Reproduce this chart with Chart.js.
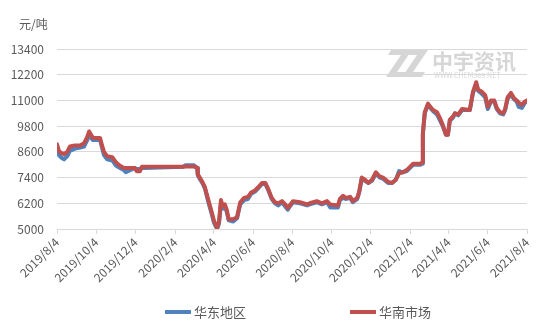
<!DOCTYPE html>
<html>
<head>
<meta charset="utf-8">
<script src="https://cdn.jsdelivr.net/npm/chart.js@4"></script>
<style>
  html, body { margin: 0; padding: 0; background: #fff; }
  #wrap { width: 554px; height: 332px; }
</style>
</head>
<body>
<div id="wrap"><canvas id="price"></canvas></div>
<script>
const dates = [
  '2019/8/4','2019/8/7','2019/8/10','2019/8/15','2019/8/20','2019/8/24','2019/9/1','2019/9/9','2019/9/15','2019/9/20',
  '2019/9/23','2019/9/26','2019/9/29','2019/10/10','2019/10/13','2019/10/16','2019/10/21','2019/10/29','2019/11/4','2019/11/10',
  '2019/11/16','2019/11/19','2019/12/3','2019/12/6','2019/12/11','2019/12/14','2019/12/19','2020/2/16','2020/2/20','2020/3/4',
  '2020/3/9','2020/3/10','2020/3/17','2020/3/21','2020/3/26','2020/4/1','2020/4/4','2020/4/9','2020/4/12','2020/4/15',
  '2020/4/18','2020/4/21','2020/4/24','2020/4/27','2020/5/4','2020/5/10','2020/5/15','2020/5/21','2020/5/27','2020/6/1',
  '2020/6/7','2020/6/12','2020/6/18','2020/6/23','2020/6/27','2020/7/3','2020/7/8','2020/7/13','2020/7/19','2020/7/24',
  '2020/7/28','2020/7/31','2020/8/5','2020/8/16','2020/8/27','2020/8/31','2020/9/11','2020/9/19','2020/9/27','2020/10/2',
  '2020/10/14','2020/10/17','2020/10/22','2020/10/26','2020/11/2','2020/11/6','2020/11/13','2020/11/16','2020/11/20','2020/11/25',
  '2020/11/30','2020/12/6','2020/12/12','2020/12/18','2020/12/23','2020/12/31','2021/1/6','2021/1/12','2021/1/17','2021/1/23',
  '2021/1/29','2021/2/3','2021/2/8','2021/2/19','2021/2/22','2021/2/23','2021/2/26','2021/3/3','2021/3/8','2021/3/11',
  '2021/3/17','2021/3/22','2021/3/26','2021/3/31','2021/4/3','2021/4/6','2021/4/11','2021/4/14','2021/4/19','2021/4/25',
  '2021/5/7','2021/5/12','2021/5/17','2021/5/20','2021/5/26','2021/5/31','2021/6/4','2021/6/9','2021/6/14','2021/6/18',
  '2021/6/23','2021/6/28','2021/7/1','2021/7/5','2021/7/10','2021/7/15','2021/7/19','2021/7/22','2021/7/27','2021/8/1',
  '2021/8/4'
];

// 华东地区
const eastValues = [
  8700,8450,8350,8250,8400,8650,8750,8800,8850,9150,
  9450,9250,9150,9150,8800,8450,8250,8200,7950,7850,
  7750,7650,7850,7800,7800,7850,7850,7900,7980,7980,
  7850,7500,7150,6900,6300,5650,5300,5000,5250,6200,
  5950,6050,5800,5400,5350,5500,6150,6350,6400,6650,
  6750,6900,7100,7100,6850,6400,6200,6100,6250,6050,
  5900,6050,6250,6200,6100,6150,6250,6150,6250,6000,
  6000,6350,6450,6400,6450,6250,6400,6700,7350,7250,
  7150,7250,7600,7400,7350,7150,7150,7300,7700,7650,
  7700,7850,8000,8000,8050,9400,10400,10800,10600,10500,
  10350,10050,9800,9400,9400,10050,10200,10400,10300,10550,
  10550,11350,11750,11450,11300,11150,10600,10950,10950,10600,
  10400,10350,10550,11100,11250,11050,10950,10700,10650,10900,
  10950
];

// 华南市场
const southValues = [
  8950,8650,8550,8500,8600,8850,8900,8900,9000,9300,
  9550,9400,9250,9250,8900,8600,8400,8350,8100,7950,
  7850,7850,7850,7700,7700,7900,7900,7900,7920,7920,
  7850,7550,7200,6950,6400,5750,5400,5050,5350,6350,
  6050,6150,5900,5450,5450,5550,6250,6450,6500,6700,
  6800,6950,7150,7150,6900,6450,6250,6200,6300,6150,
  5980,6100,6300,6250,6150,6200,6300,6200,6300,6150,
  6100,6400,6550,6450,6500,6300,6450,6750,7400,7300,
  7150,7300,7650,7450,7400,7200,7150,7300,7600,7650,
  7750,7900,8050,8050,8100,9450,10450,10850,10650,10550,
  10450,10150,9850,9400,9400,10100,10250,10400,10350,10600,
  10550,11400,11850,11500,11400,11250,10700,11000,11000,10650,
  10450,10400,10600,11150,11350,11100,11000,10900,10800,10950,
  11000
];

const seriesNames = ['华东地区', '华南市场'];
const seriesColors = ['#4F81BD', '#C0504D'];
const xTickLabels = ['2019/8/4','2019/10/4','2019/12/4','2020/2/4','2020/4/4','2020/6/4','2020/8/4',
  '2020/10/4','2020/12/4','2021/2/4','2021/4/4','2021/6/4','2021/8/4'];
const yMin = 5000, yMax = 13400, yStep = 1200;
const unitLabel = '元/吨';

function dayOf(s) {
  const [y, m, d] = s.split('/').map(Number);
  return Math.round((Date.UTC(y, m - 1, d) - Date.UTC(2019, 7, 4)) / 86400000);
}

function points(vals) {
  return dates.map((d, i) => ({ x: dayOf(d), y: vals[i] }));
}

const FONT = '"Noto Sans CJK SC", "Microsoft YaHei", sans-serif';
Chart.defaults.font.family = FONT;
Chart.defaults.color = '#595959';

// unit label, watermark and legend drawn on the canvas
const extras = {
  id: 'extras',
  beforeDatasetsDraw(chart) {
    const c = chart.ctx;
    c.save();
    c.fillStyle = '#d6d6d6';
    // logo
    c.beginPath();
    c.moveTo(391, 50); c.lineTo(412, 50); c.lineTo(397, 72); c.lineTo(410, 72);
    c.lineTo(407, 77); c.lineTo(386, 77); c.lineTo(401, 55); c.lineTo(388, 55);
    c.closePath(); c.fill();
    c.beginPath();
    c.moveTo(408, 50); c.lineTo(428, 50); c.lineTo(413, 72); c.lineTo(425, 72);
    c.lineTo(422, 77); c.lineTo(402, 77); c.lineTo(417, 55); c.lineTo(405, 55);
    c.closePath(); c.fill();
    c.font = 'bold 21px ' + FONT;
    c.textBaseline = 'alphabetic';
    c.fillText('中宇资讯', 432, 69);
    c.font = '7px ' + FONT;
    c.fillText('WWW.CHEM365.NET', 434, 78);
    c.restore();
  },
  afterDraw(chart) {
    const c = chart.ctx;
    c.save();
    c.fillStyle = '#595959';
    c.font = '12px ' + FONT;
    c.textBaseline = 'middle';
    c.fillText(unitLabel, 19, 24);
    const legendX = [165, 350];
    c.font = '13px ' + FONT;
    chart.data.datasets.forEach((ds, i) => {
      c.strokeStyle = ds.borderColor;
      c.lineWidth = 4;
      c.beginPath();
      c.moveTo(legendX[i], 312);
      c.lineTo(legendX[i] + 26, 312);
      c.stroke();
      c.fillStyle = '#595959';
      c.fillText(ds.label, legendX[i] + 29, 312);
    });
    c.restore();
  }
};

new Chart(document.getElementById('price'), {
  type: 'line',
  data: {
    datasets: [
      { label: seriesNames[0], data: points(eastValues), borderColor: seriesColors[0], backgroundColor: seriesColors[0], order: 1 },
      { label: seriesNames[1], data: points(southValues), borderColor: seriesColors[1], backgroundColor: seriesColors[1], order: 0 }
    ]
  },
  options: {
    responsive: true,
    maintainAspectRatio: false,
    animation: false,
    layout: { padding: { top: 49, right: 27, left: 0, bottom: 0 } },
    elements: {
      point: { radius: 0, hoverRadius: 0 },
      line: { borderWidth: 4, tension: 0, borderJoinStyle: 'round', borderCapStyle: 'round' }
    },
    plugins: { legend: { display: false }, tooltip: { enabled: false } },
    scales: {
      x: {
        type: 'linear',
        min: 0,
        max: dayOf(xTickLabels[xTickLabels.length - 1]),
        afterBuildTicks: s => { s.ticks = xTickLabels.map(l => ({ value: dayOf(l) })); },
        afterFit: s => { s.height = 103; },
        grid: { drawOnChartArea: false, drawTicks: true, tickLength: 5, color: '#d9d9d9' },
        border: { display: true, color: '#d9d9d9' },
        ticks: {
          autoSkip: false,
          maxRotation: 45,
          minRotation: 45,
          padding: 1,
          font: { size: 12 },
          callback: (v, i) => xTickLabels[i]
        }
      },
      y: {
        min: yMin,
        max: yMax,
        afterFit: s => { s.width = 57; },
        grid: { color: '#d9d9d9', drawTicks: false },
        border: { display: false },
        ticks: { stepSize: yStep, padding: 13, font: { size: 12 }, callback: v => String(v) }
      }
    }
  },
  plugins: [extras]
});
</script>
</body>
</html>
